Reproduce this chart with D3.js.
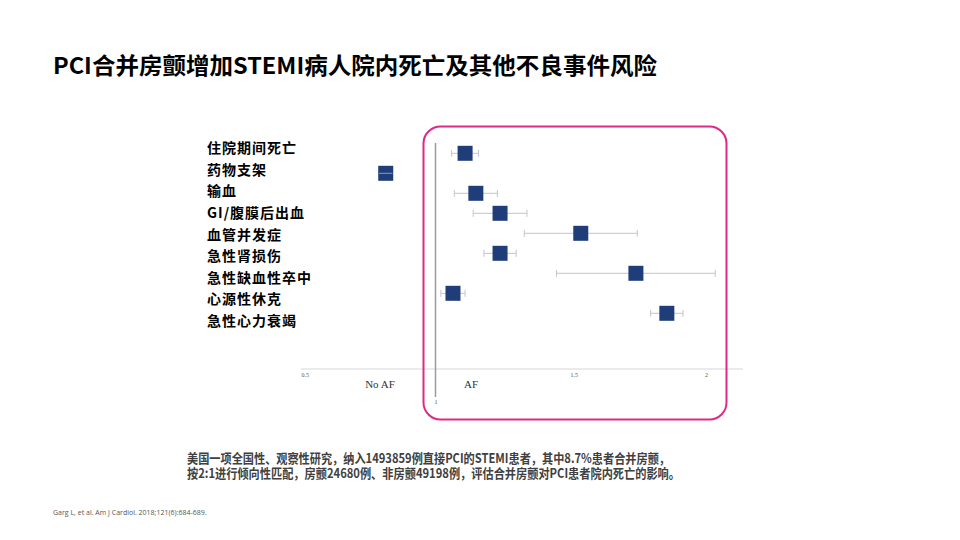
<!DOCTYPE html>
<html>
<head>
<meta charset="utf-8">
<title>PCI AF STEMI</title>
<script src="https://d3js.org/d3.v7.min.js"></script>
<style>
  body { margin: 0; background: #fff; }
  svg { display: block; }
</style>
</head>
<body>
<svg id="chart" width="960" height="540"></svg>
<script>
// outcomes, odds ratio and 95% CI
const outcomes = ["住院期间死亡", "药物支架", "输血", "GI/腹膜后出血", "血管并发症",
                  "急性肾损伤", "急性缺血性卒中", "心源性休克", "急性心力衰竭"];
const oddsRatio = [1.11, 0.815, 1.15, 1.24, 1.54, 1.24, 1.745, 1.065, 1.86];
const ciLow     = [1.06, 0.79, 1.07, 1.14, 1.33, 1.18, 1.45, 1.02, 1.80];
const ciHigh    = [1.16, 0.84, 1.23, 1.34, 1.75, 1.30, 2.04, 1.11, 1.92];
const tickValues = [0.5, 1.5, 2];
const tickLabels = ["0.5", "1.5", "2"];

const title = "PCI合并房颤增加STEMI病人院内死亡及其他不良事件风险";
const noteLines = [
  "美国一项全国性、观察性研究，纳入1493859例直接PCI的STEMI患者，其中8.7%患者合并房颤，",
  "按2:1进行倾向性匹配，房颤24680例、非房颤49198例，评估合并房颤对PCI患者院内死亡的影响。"
];
const noteWidths = [483, 493];
const citation = "Garg L, et al. Am J Cardiol. 2018;121(6):684-689.";

const svg = d3.select("#chart");
const cjk = "'Noto Sans CJK SC', 'Noto Sans', sans-serif";

// title
svg.append("text")
  .attr("x", 53).attr("y", 74)
  .attr("font-family", cjk)
  .attr("font-size", 23)
  .attr("font-weight", "bold")
  .attr("fill", "#000")
  .attr("textLength", 604)
  .attr("lengthAdjust", "spacingAndGlyphs")
  .text(title);

// scales
const x = d3.scaleLinear().domain([0.5, 2]).range([301, 704.5]);
const y = d3.scalePoint().domain(outcomes).range([153.3, 313.3]);
const yLabel = d3.scalePoint().domain(outcomes).range([148, 321]);

const data = outcomes.map((d, i) => ({
  name: d, or: oddsRatio[i], lo: ciLow[i], hi: ciHigh[i]
}));

// horizontal axis
const axisY = 369;
const axis = svg.append("g")
  .attr("transform", "translate(0," + axisY + ")")
  .call(d3.axisBottom(x).tickValues(tickValues).tickSize(0)
        .tickFormat((d, i) => tickLabels[i]));
axis.select(".domain").remove();
axis.selectAll("text")
  .attr("text-anchor", "start")
  .attr("dy", 0)
  .attr("y", 8)
  .attr("font-family", "'Liberation Serif', serif")
  .attr("font-size", 6)
  .attr("fill", "#555");
svg.append("line")
  .attr("x1", 301).attr("x2", 743)
  .attr("y1", axisY).attr("y2", axisY)
  .attr("stroke", "#d6d6dc").attr("stroke-width", 1);

// reference line at OR = 1
svg.append("line")
  .attr("x1", x(1)).attr("x2", x(1))
  .attr("y1", 143).attr("y2", 397)
  .attr("stroke", "#9a9aa4").attr("stroke-width", 1.5);
svg.append("text")
  .attr("x", x(1) - 1).attr("y", 404)
  .attr("font-family", "'Liberation Serif', serif")
  .attr("font-size", 6)
  .attr("fill", "#555")
  .text("1");

// No AF / AF
svg.append("text")
  .attr("x", 380).attr("y", 388)
  .attr("text-anchor", "middle")
  .attr("font-family", "'Liberation Serif', serif")
  .attr("font-size", 11).attr("fill", "#333")
  .text("No AF");
svg.append("text")
  .attr("x", 471).attr("y", 388)
  .attr("text-anchor", "middle")
  .attr("font-family", "'Liberation Serif', serif")
  .attr("font-size", 11).attr("fill", "#333")
  .text("AF");

// CI whiskers
const rows = svg.append("g").selectAll("g").data(data).enter().append("g");
rows.append("line")
  .attr("x1", d => x(d.lo)).attr("x2", d => x(d.hi))
  .attr("y1", d => y(d.name)).attr("y2", d => y(d.name))
  .attr("stroke", "#c4c4cc").attr("stroke-width", 1);
rows.append("line")
  .attr("x1", d => x(d.lo)).attr("x2", d => x(d.lo))
  .attr("y1", d => y(d.name) - 3.5).attr("y2", d => y(d.name) + 3.5)
  .attr("stroke", "#c4c4cc").attr("stroke-width", 1);
rows.append("line")
  .attr("x1", d => x(d.hi)).attr("x2", d => x(d.hi))
  .attr("y1", d => y(d.name) - 3.5).attr("y2", d => y(d.name) + 3.5)
  .attr("stroke", "#c4c4cc").attr("stroke-width", 1);

// point estimates
const sq = 15;
rows.append("rect")
  .attr("x", d => x(d.or) - sq / 2)
  .attr("y", d => y(d.name) - sq / 2)
  .attr("width", sq).attr("height", sq)
  .attr("fill", "#1f3e79");
// whisker visible through narrow-CI square
rows.filter(d => x(d.hi) - x(d.lo) < sq)
  .append("line")
  .attr("x1", d => x(d.lo)).attr("x2", d => x(d.hi))
  .attr("y1", d => y(d.name)).attr("y2", d => y(d.name))
  .attr("stroke", "#8a9ac0").attr("stroke-width", 1);

// outcome labels
svg.append("g").selectAll("text").data(outcomes).enter().append("text")
  .attr("x", 207)
  .attr("y", d => yLabel(d))
  .attr("dy", "0.36em")
  .attr("font-family", cjk)
  .attr("font-size", 14)
  .attr("font-weight", "bold")
  .attr("letter-spacing", 1)
  .attr("fill", "#000")
  .text(d => d);

// highlight box
svg.append("rect")
  .attr("x", 423.5).attr("y", 126.5)
  .attr("width", 303).attr("height", 293)
  .attr("rx", 17).attr("ry", 17)
  .attr("fill", "none")
  .attr("stroke", "#dc2a86").attr("stroke-width", 2);

// note
svg.append("g").selectAll("text").data(noteLines).enter().append("text")
  .attr("x", 187)
  .attr("y", (d, i) => 463 + i * 14.7)
  .attr("font-family", cjk)
  .attr("font-size", 13)
  .attr("font-weight", "bold")
  .attr("fill", "#404040")
  .attr("textLength", (d, i) => noteWidths[i])
  .attr("lengthAdjust", "spacingAndGlyphs")
  .text(d => d);

// citation
svg.append("text")
  .attr("x", 53).attr("y", 515)
  .attr("font-family", "'Open Sans', 'Liberation Sans', sans-serif")
  .attr("font-size", 7)
  .attr("fill", "#555")
  .text(citation);
</script>
</body>
</html>
